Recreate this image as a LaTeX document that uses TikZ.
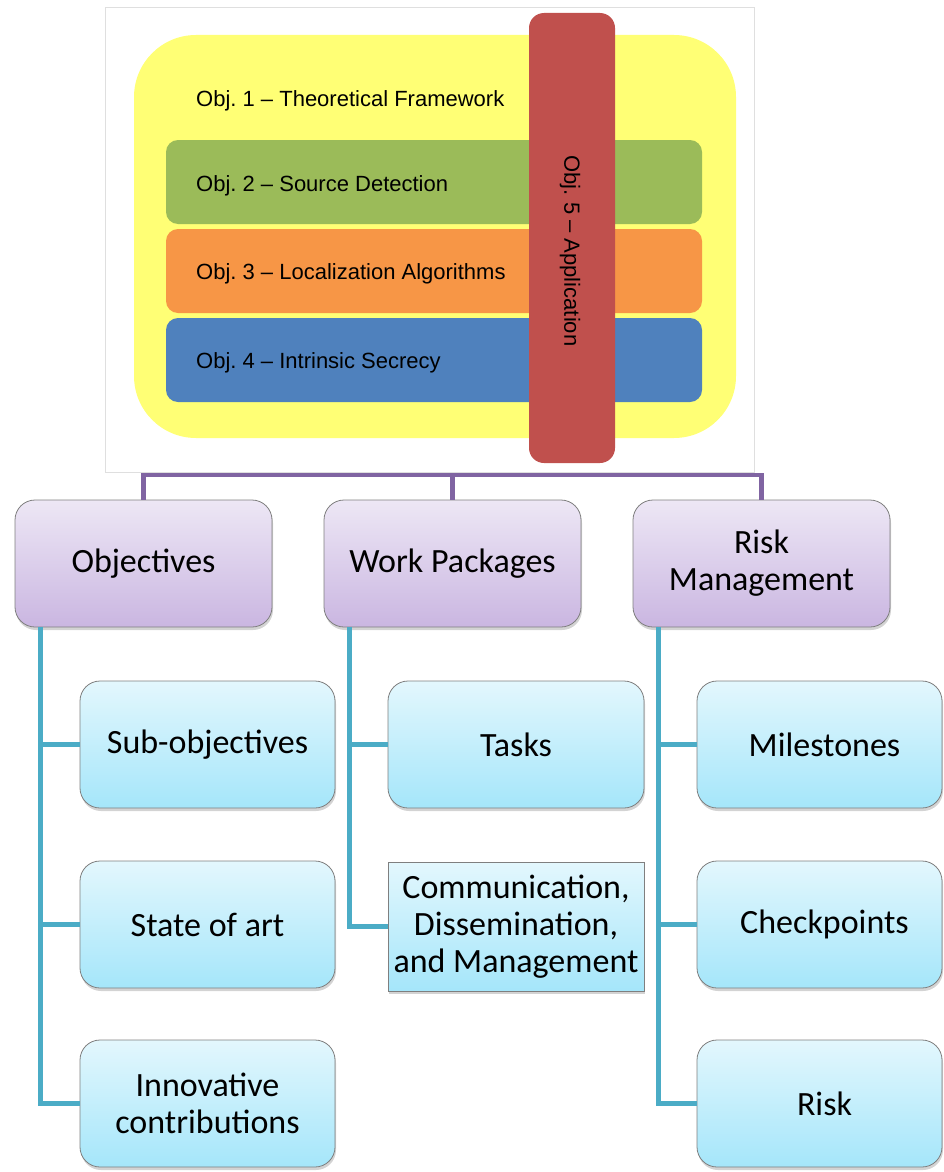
\documentclass[tikz,border=0pt]{standalone}
\usepackage{fontspec}
\setmainfont{Carlito}
\newfontfamily\arialf{Liberation Sans}
\usetikzlibrary{shadows,calc}
\frenchspacing
\definecolor{yel}{HTML}{FFFF75}
\definecolor{grn}{HTML}{9BBB59}
\definecolor{org}{HTML}{F79646}
\definecolor{blu}{HTML}{4F81BD}
\definecolor{redb}{HTML}{C0504D}
\definecolor{purpl}{HTML}{8064A2}
\definecolor{teal}{HTML}{4BACC6}
\definecolor{ptop}{HTML}{EDE7F5}
\definecolor{pbot}{HTML}{CAB6E1}
\definecolor{btop}{HTML}{E3F7FD}
\definecolor{bbot}{HTML}{A5E6FA}
\definecolor{boxedge}{HTML}{7F7F7F}
\begin{document}
\begin{tikzpicture}[x=1pt,y=-1pt,
  objlabel/.style={anchor=west,font=\arialf\fontsize{22}{26}\selectfont,inner sep=0pt},
  band/.style={rounded corners=12pt},
  shadowed/.style={drop shadow={shadow xshift=1pt,shadow yshift=-3pt,opacity=0.35}},
  purplebox/.style={draw=boxedge,line width=0.8pt,rounded corners=20pt,top color=ptop,bottom color=pbot,
    minimum width=257pt,minimum height=127pt,align=center,font=\fontsize{34}{37}\selectfont,shadowed},
  bluebox/.style={draw=boxedge,line width=0.8pt,rounded corners=20pt,top color=btop,bottom color=bbot,
    minimum width=255pt,minimum height=127pt,align=center,font=\fontsize{34}{37}\selectfont,shadowed},
  bluerect/.style={bluebox,rounded corners=0pt},
  purpleline/.style={draw=purpl,line width=4.5pt},
  tealline/.style={draw=teal,line width=5pt},
]
\useasboundingbox (0,0) rectangle (943,1172);
% top picture
\draw[gray!25,line width=1pt,fill=white] (105,8) rectangle (754,472);
\fill[yel,rounded corners=62pt] (134,35) rectangle (736,438);
\fill[grn,band] (166,140) rectangle (702,224);
\fill[org,band] (166,229) rectangle (702,313);
\fill[blu,band] (166,318) rectangle (702,402);
\node[objlabel] (o1) at (196,101) {Obj. 1 – Theoretical Framework};
\node[objlabel] (o2) at (196,186) {Obj. 2 – Source Detection};
\node[objlabel] (o3) at (196,274) {Obj. 3 – Localization Algorithms};
\node[objlabel] (o4) at (196,363) {Obj. 4 – Intrinsic Secrecy};
\fill[redb,rounded corners=15pt] (529,13) rectangle (615,463);
\node[rotate=-90,font=\arialf\fontsize{22}{26}\selectfont,inner sep=0pt] (o5) at (570,251) {Obj. 5 – Application};
% purple boxes
\node[purplebox] (obj) at (143.5,563.5) {\raisebox{-3pt}{Objectives}};
\node[purplebox] (wp) at (452.5,563.5) {\raisebox{-3pt}{Work Packages}};
\node[purplebox] (risk) at (761.5,563.5) {Risk\\Management};
\coordinate (bus) at (452.5,475);
\draw[purpleline] (obj.north) -- (obj.north |- bus) -- (risk.north |- bus) -- (risk.north);
\draw[purpleline] (wp.north) -- (wp.north |- bus);
% blue boxes
\node[bluebox] (sub) at (207.5,744.5) {\raisebox{-2pt}{Sub-objectives}};
\node[bluebox] (soa) at (207.5,924.5) {\raisebox{-2pt}{State of art}};
\node[bluebox] (inn) at (207.5,1103.5) {Innovative\\contributions};
\node[bluebox,minimum width=256pt] (tasks) at (516,744.5) {Tasks};
\node[bluerect,minimum width=256pt,minimum height=129pt] (comm) at (516,926.5) {Communication,\\Dissemination,\\and Management};
\node[bluebox,minimum width=245pt] (mil) at (819.5,744.5) {\hspace*{10pt}Milestones};
\node[bluebox,minimum width=245pt] (chk) at (819.5,924.5) {\hspace*{10pt}\raisebox{-2pt}{Checkpoints}};
\node[bluebox,minimum width=245pt] (rsk) at (819.5,1103.5) {\hspace*{10pt}Risk};
% teal connectors
\coordinate (ot) at ($(obj.south west)+(26,0)$);
\coordinate (wt) at ($(wp.south west)+(26,0)$);
\coordinate (rt) at ($(risk.south west)+(26,0)$);
\draw[tealline] (ot) |- (inn.west);
\draw[tealline] (ot |- sub.west) -- (sub.west);
\draw[tealline] (ot |- soa.west) -- (soa.west);
\draw[tealline] (wt) |- (comm.west);
\draw[tealline] (wt |- tasks.west) -- (tasks.west);
\draw[tealline] (rt) |- (rsk.west);
\draw[tealline] (rt |- mil.west) -- (mil.west);
\draw[tealline] (rt |- chk.west) -- (chk.west);
\end{tikzpicture}
\end{document}
